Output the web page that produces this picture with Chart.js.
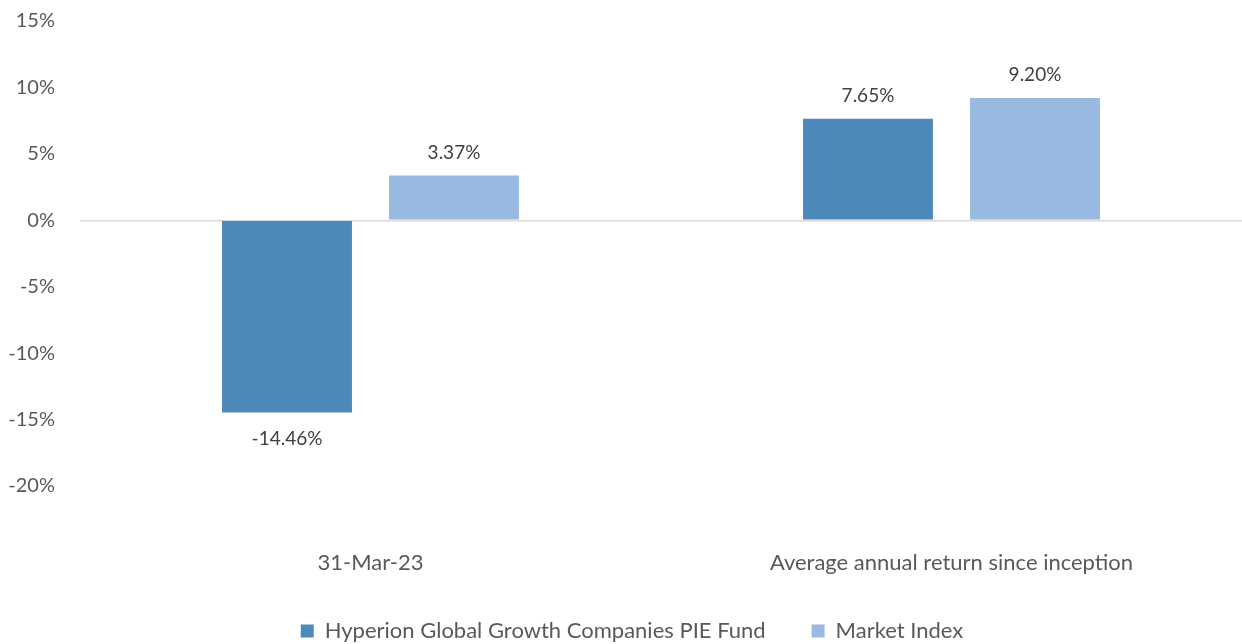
<!DOCTYPE html>
<html>
<head>
<meta charset="utf-8">
<script src="https://cdn.jsdelivr.net/npm/chart.js@4/dist/chart.umd.min.js"></script>
<style>
html,body{margin:0;padding:0;background:#fff;}
#wrap{width:1242px;height:644px;position:relative;}
</style>
</head>
<body>
<div id="wrap"><canvas id="c" width="1242" height="644"></canvas></div>
<script>
const categories = ["31-Mar-23", "Average annual return since inception"];
const fundValues = [-14.46, 7.65];
const indexValues = [3.37, 9.20];
const seriesNames = ["Hyperion Global Growth Companies PIE Fund", "Market Index"];
const yTicks = [-20, -15, -10, -5, 0, 5, 10, 15];

const FONT = "Lato, 'Open Sans', sans-serif";

const valueLabels = {
  id: 'valueLabels',
  afterDatasetsDraw(chart) {
    const ctx = chart.ctx;
    ctx.save();
    ctx.font = "19px " + FONT;
    ctx.fillStyle = "#404040";
    ctx.textAlign = "center";
    ctx.textBaseline = "middle";
    chart.data.datasets.forEach((ds, di) => {
      const meta = chart.getDatasetMeta(di);
      meta.data.forEach((bar, i) => {
        const v = ds.data[i];
        const txt = v.toFixed(2) + "%";
        const y = v >= 0 ? bar.y - 23 : bar.y + 26;
        ctx.fillText(txt, bar.x, y);
      });
    });
    ctx.restore();
  }
};

const legendShift = {
  id: 'legendShift',
  afterLayout(chart) {
    if (chart.legend) { chart.legend.left += 11; chart.legend.right += 11; }
  }
};

new Chart(document.getElementById('c'), {
  type: 'bar',
  data: {
    labels: categories,
    datasets: [
      { label: seriesNames[0], data: fundValues, backgroundColor: '#4f88bb', categoryPercentage: 0.5749, barPercentage: 0.778 },
      { label: seriesNames[1], data: indexValues, backgroundColor: '#98b9e0', categoryPercentage: 0.5749, barPercentage: 0.778 }
    ]
  },
  options: {
    responsive: false,
    animation: false,
    layout: { padding: { top: 21, right: 0, left: 0, bottom: -8 } },
    plugins: {
      tooltip: { enabled: false },
      legend: {
        position: 'bottom',
        labels: {
          font: { family: FONT, size: 22 },
          color: '#595959',
          boxWidth: 13,
          boxHeight: 13,
          padding: 46
        }
      }
    },
    scales: {
      x: {
        grid: { display: false, drawTicks: false },
        border: { display: false },
        ticks: { font: { family: FONT, size: 22 }, color: '#595959', padding: 64, maxRotation: 0 },
        afterFit(scale) { scale.height = 88; }
      },
      y: {
        min: -20, max: 15,
        afterBuildTicks(scale) { scale.ticks = yTicks.map(v => ({ value: v })); },
        grid: {
          drawTicks: false,
          color: (c) => c.tick && c.tick.value === 0 ? '#d9d9d9' : 'rgba(0,0,0,0)',
          lineWidth: 1.5
        },
        border: { display: false },
        ticks: { font: { family: FONT, size: 20 }, color: '#595959', padding: 25, callback: (v) => v + '%' },
        afterFit(scale) { scale.width = 80; scale.paddingTop = 0; scale.paddingBottom = 0; }
      }
    }
  },
  plugins: [valueLabels, legendShift]
});
</script>
</body>
</html>
